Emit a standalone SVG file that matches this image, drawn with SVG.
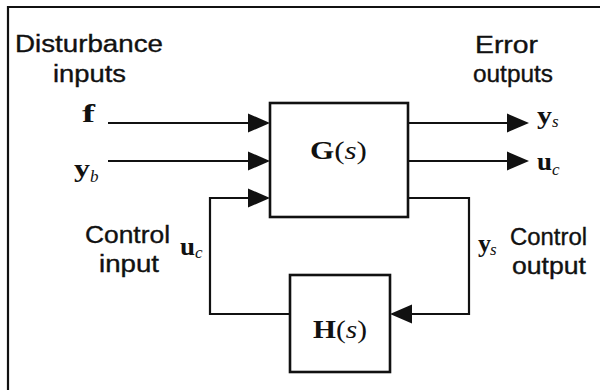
<svg xmlns="http://www.w3.org/2000/svg" width="602" height="390" viewBox="0 0 602 390">
<style>
.lbl{font-family:"Liberation Sans",Arial,sans-serif;font-size:23px;fill:#111;stroke:#111;stroke-width:0.35}
.m{font-family:"Liberation Serif","Times New Roman",serif;font-size:26px;font-weight:bold;fill:#111}
.sub{font-family:"Liberation Serif","Times New Roman",serif;font-size:17px;font-style:italic;fill:#111}
.it{font-style:italic;font-weight:normal}
.nb{font-weight:normal}
.ln{fill:none;stroke:#111;stroke-width:2.2}
.box{fill:#fff;stroke:#111;stroke-width:2.6}
.ah{fill:#111}
</style>
<rect width="602" height="390" fill="#fff"/>
<g id="frame">
<path class="ln" d="M8,390 V7 H600"/>
</g>
<g id="labels">
<text class="lbl" x="15" y="52" textLength="148" lengthAdjust="spacingAndGlyphs">Disturbance</text>
<text class="lbl" x="53" y="82" textLength="73" lengthAdjust="spacingAndGlyphs">inputs</text>
<text class="lbl" x="475" y="53" textLength="63" lengthAdjust="spacingAndGlyphs">Error</text>
<text class="lbl" x="473" y="82" textLength="80" lengthAdjust="spacingAndGlyphs">outputs</text>
<text class="lbl" x="85" y="243" textLength="85" lengthAdjust="spacingAndGlyphs">Control</text>
<text class="lbl" x="99" y="272" textLength="60" lengthAdjust="spacingAndGlyphs">input</text>
<text class="lbl" x="510" y="245" textLength="77" lengthAdjust="spacingAndGlyphs">Control</text>
<text class="lbl" x="512" y="274" textLength="74" lengthAdjust="spacingAndGlyphs">output</text>
<text class="m" x="82" y="122" textLength="13" lengthAdjust="spacingAndGlyphs">f</text>
<text class="m" x="74" y="177" textLength="16" lengthAdjust="spacingAndGlyphs">y</text><text class="sub" x="90" y="182">b</text>
<text class="m" x="537" y="124" textLength="15" lengthAdjust="spacingAndGlyphs">y</text><text class="sub" x="552" y="127">s</text>
<text class="m" x="537" y="170" textLength="15" lengthAdjust="spacingAndGlyphs">u</text><text class="sub" x="552" y="175">c</text>
<text class="m" x="180" y="255" textLength="15" lengthAdjust="spacingAndGlyphs">u</text><text class="sub" x="195" y="258">c</text>
<text class="m" x="478" y="252" textLength="13" lengthAdjust="spacingAndGlyphs">y</text><text class="sub" x="490" y="255">s</text>
</g>
<g id="connectors">
<path class="ln" d="M108,123 H250"/>
<polygon class="ah" points="248,113.5 270,123 248,132.5"/>
<path class="ln" d="M108,161 H250"/>
<polygon class="ah" points="248,151.5 270,161 248,170.5"/>
<path class="ln" d="M290,314 H210 V198 H250"/>
<polygon class="ah" points="248,188.5 270,198 248,207.5"/>
<path class="ln" d="M408,123 H509"/>
<polygon class="ah" points="507,113.5 529,123 507,132.5"/>
<path class="ln" d="M408,161 H509"/>
<polygon class="ah" points="507,151.5 529,161 507,170.5"/>
<path class="ln" d="M408,198 H469 V314 H410"/>
<polygon class="ah" points="412,304.5 390,314 412,323.5"/>
</g>
<g id="G">
<rect class="box" x="270" y="103" width="138" height="114"/>
<text class="m" x="310" y="159" textLength="57" lengthAdjust="spacingAndGlyphs">G<tspan class="nb">(</tspan><tspan class="it">s</tspan><tspan class="nb">)</tspan></text>
</g>
<g id="H">
<rect class="box" x="290" y="275" width="100" height="97"/>
<text class="m" x="313" y="338" textLength="54" lengthAdjust="spacingAndGlyphs">H<tspan class="nb">(</tspan><tspan class="it">s</tspan><tspan class="nb">)</tspan></text>
</g>
</svg>
